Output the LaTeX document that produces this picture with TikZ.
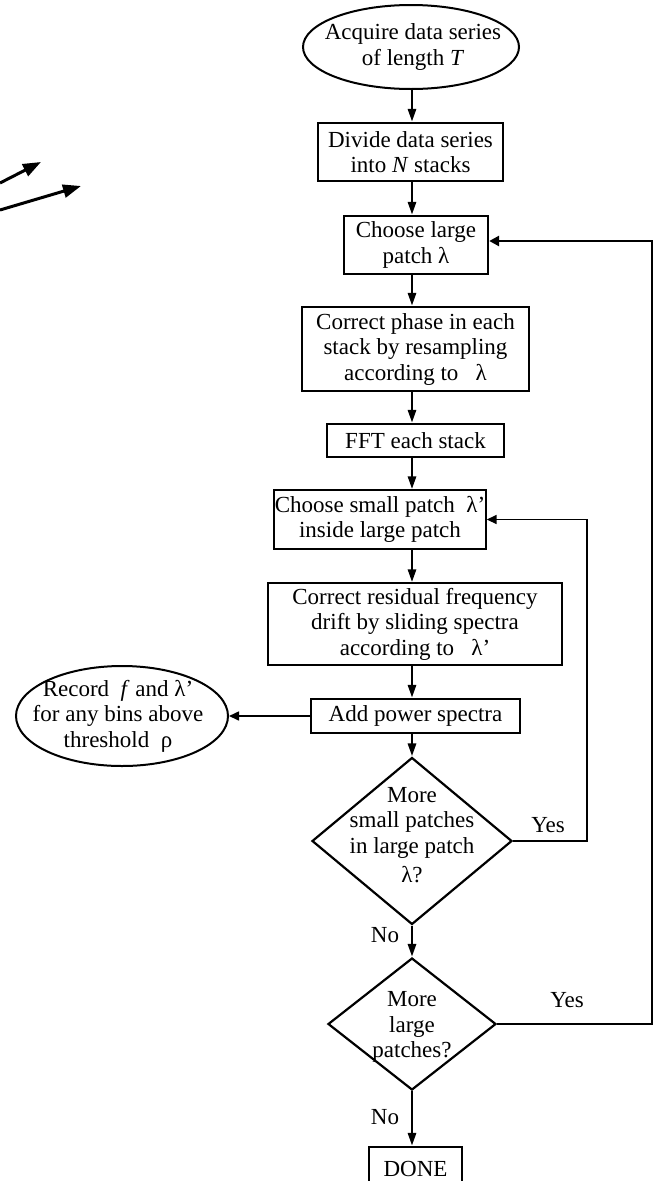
\documentclass[tikz,border=0pt]{standalone}
\usepackage{fontspec}
\setmainfont{Liberation Serif}
\usetikzlibrary{shapes.geometric,arrows.meta,calc}
\begin{document}
\begin{tikzpicture}[x=1pt,y=-1pt,
  every node/.style={font=\fontsize{23}{25.5}\selectfont, align=center, inner sep=0pt},
  box/.style={draw, rectangle, line width=2.3pt},
  thinbox/.style={draw, rectangle, line width=1.4pt},
  oval/.style={draw, ellipse, line width=2pt},
  decision/.style={draw, diamond, line width=2.2pt},
  flow/.style={line width=2.8pt, -{Triangle[length=13pt,width=8pt]}},
  side/.style={line width=1.6pt, -{Triangle[length=10pt,width=9pt]}},
  loopbig/.style={line width=2.8pt, -{Triangle[length=10pt,width=10pt]}},
  note/.style={line width=3pt, -{Triangle[length=18pt,width=13pt]}},
  lbl/.style={font=\fontsize{23}{25.5}\selectfont}
]
\useasboundingbox (0,0) rectangle (655,1181);
\clip (0,0) rectangle (655,1181);
\fill[white] (0,0) rectangle (655,1181);

\coordinate (sp) at (412,0);

\node[oval, minimum width=216pt, minimum height=84pt] (acq) at (411,47) {};
\node[lbl] (acqt) at (413,47) {Acquire data series\\of length \textit{T}};
\node[box, minimum width=185pt, minimum height=58pt] (div) at (410.5,152)
  {Divide data series\\into \textit{N} stacks};
\node[box, minimum width=144pt, minimum height=58pt] (big) at (416,245)
  {Choose large\\patch λ};
\node[box, minimum width=227pt, minimum height=84pt] (phase) at (415.5,349)
  {Correct phase in each\\stack by resampling\\according to \ \ λ};
\node[box, minimum width=177pt, minimum height=33pt] (fft) at (415.5,440.5)
  {FFT each stack};
\node[thinbox, minimum width=212pt, minimum height=59pt] (small) at (380,519.5)
  {Choose small patch \ λ'\\inside large patch};
\node[thinbox, minimum width=294pt, minimum height=82pt] (resid) at (415,624)
  {Correct residual frequency\\drift by sliding spectra\\according to \ \ λ'};
\node[box, minimum width=209pt, minimum height=34pt] (add) at (415.5,716)
  {Add power spectra};
\node[oval, minimum width=212pt, minimum height=100pt] (rec) at (122,716) {};
\node[lbl] (rect) at (118,716) {Record \ \textit{f} and λ'\\for any bins above\\threshold \ ρ};
\node[decision, minimum width=200pt, minimum height=167pt] (d1) at (412,841) {};
\node[lbl] (d1t) at (412,835) {More\\small patches\\in large patch\\[4pt]λ?};
\node[decision, minimum width=168pt, minimum height=132pt] (d2) at (412,1024) {};
\node[lbl] (d2t) at (412,1027) {More\\large\\patches?};
\node[box, minimum width=93pt, minimum height=44pt] (done) at (415.5,1169) {DONE};

% main flow
\draw[flow] (acq.south -| sp) -- (div.north -| sp);
\draw[flow] (div.south -| sp) -- (big.north -| sp);
\draw[flow] (big.south -| sp) -- (phase.north -| sp);
\draw[flow] (phase.south -| sp) -- (fft.north -| sp);
\draw[flow] (fft.south -| sp) -- (small.north -| sp);
\draw[flow] (small.south -| sp) -- (resid.north -| sp);
\draw[flow] (resid.south -| sp) -- (add.north -| sp);
\draw[flow] (add.south -| sp) -- (d1.north);
\draw[flow] (d1.south) -- (d2.north);
\draw[flow] (d2.south) -- (done.north -| sp);

% side branch
\draw[side] (add.west) -- (rec.east);

% loops
\coordinate (c1) at (587,0);
\coordinate (c2) at (652,0);
\draw[side] (d1.east) -- (d1.east -| c1) |- (small.east);
\draw[loopbig] (d2.east) -- (d2.east -| c2) |- ($(big.east)+(0,-4)$);

% labels
\node[lbl] (y1) at (548,825) {Yes};
\node[lbl] (y2) at (567,1000) {Yes};
\node[lbl] (n1) at (385,935) {No};
\node[lbl] (n2) at (385,1117) {No};

% annotation arrows
\coordinate (a1s) at (0,183);
\coordinate (a1e) at (41,162);
\coordinate (a2s) at (0,210);
\coordinate (a2e) at (81,186);
\draw[note] (a1s) -- (a1e);
\draw[note] (a2s) -- (a2e);
\end{tikzpicture}
\end{document}
